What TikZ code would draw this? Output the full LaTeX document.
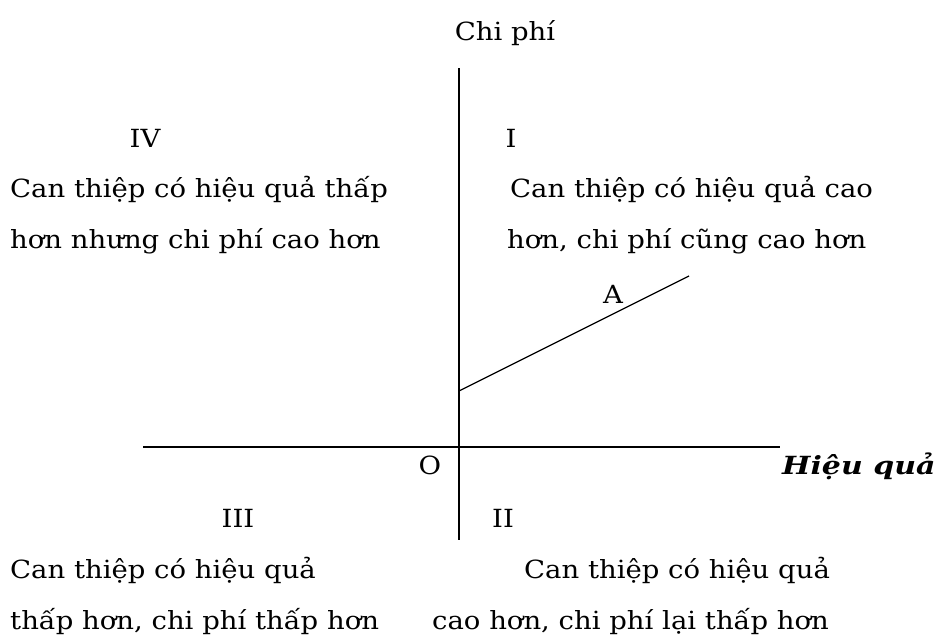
\documentclass[tikz,border=0pt]{standalone}
\usepackage{fontspec}
\setmainfont{DejaVu Serif}
\newcommand{\widetxt}[1]{\scalebox{1.1}[1]{#1}}
\begin{document}
\begin{tikzpicture}[x=1pt,y=-1pt,
  lbl/.style={inner sep=0pt,font=\fontsize{25}{30}\selectfont},
  axis/.style={line width=1.4pt}]
\useasboundingbox (0,0) rectangle (938,637);
\coordinate (ytop) at (459,68);
\coordinate (ybot) at (459,540);
\coordinate (xl) at (143,447);
\coordinate (xr) at (780,447);
\coordinate (a0) at (459,391);
\coordinate (a1) at (689,276);
\draw[axis] (ytop) -- (ybot);
\draw[axis] (xl) -- (xr);
\draw[line width=1.3pt] (a0) -- (a1);
\node[lbl,anchor=base] (cp) at (505,40) {\widetxt{Chi phí}};
\node[lbl,anchor=base] (q4) at (145,147) {\widetxt{IV}};
\node[lbl,anchor=base west] (t4a) at (10,197) {\widetxt{Can thiệp có hiệu quả thấp}};
\node[lbl,anchor=base west] (t4b) at (10,248) {\widetxt{hơn nhưng chi phí cao hơn}};
\node[lbl,anchor=base] (q1) at (511,147) {\widetxt{I}};
\node[lbl,anchor=base west] (t1a) at (510,197) {\widetxt{Can thiệp có hiệu quả cao}};
\node[lbl,anchor=base west] (t1b) at (507,248) {\widetxt{hơn, chi phí cũng cao hơn}};
\node[lbl,anchor=base] (A) at (613,303) {\widetxt{A}};
\node[lbl,anchor=base] (O) at (430,474) {\widetxt{O}};
\node[lbl,anchor=base west,font=\fontsize{25}{30}\selectfont\bfseries\itshape] (hq) at (782,474) {\scalebox{1.2}[1]{Hiệu quả}};
\node[lbl,anchor=base] (q3) at (238,527) {\widetxt{III}};
\node[lbl,anchor=base] (q2) at (503,527) {\widetxt{II}};
\node[lbl,anchor=base west] (t3a) at (10,578) {\widetxt{Can thiệp có hiệu quả}};
\node[lbl,anchor=base west] (t3b) at (10,629) {\widetxt{thấp hơn, chi phí thấp hơn}};
\node[lbl,anchor=base west] (t2a) at (524,578) {\widetxt{Can thiệp có hiệu quả}};
\node[lbl,anchor=base west] (t2b) at (432,629) {\widetxt{cao hơn, chi phí lại thấp hơn}};
\end{tikzpicture}
\end{document}
